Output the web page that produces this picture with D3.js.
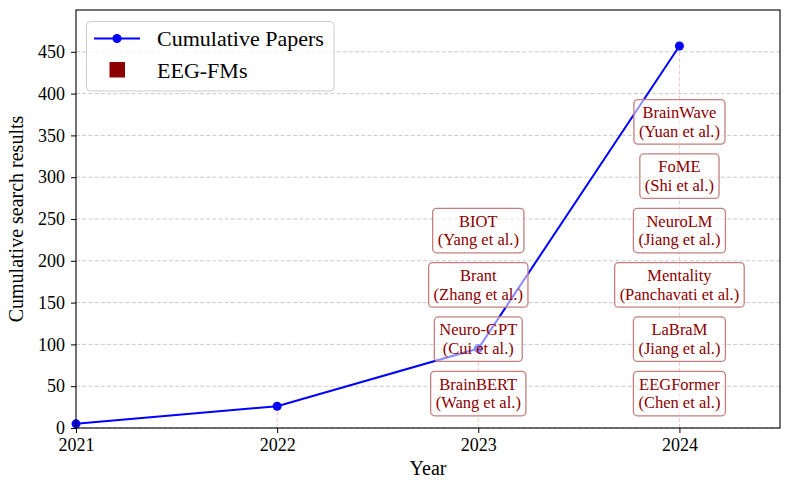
<!DOCTYPE html>
<html>
<head>
<meta charset="utf-8">
<script src="https://cdn.jsdelivr.net/npm/d3@7"></script>
<style>
  html, body { margin: 0; padding: 0; background: #fff; }
  svg { display: block; }
  text { font-family: "Liberation Serif", "DejaVu Serif", serif; }
</style>
</head>
<body>
<svg id="chart" width="790" height="490"></svg>
<script>
// ---- Data ----
const years = [2021, 2022, 2023, 2024];
const cumulativePapers = [5, 26, 95, 457];
const yTicks = [0, 50, 100, 150, 200, 250, 300, 350, 400, 450];
const xTicks = [2021, 2022, 2023, 2024];
const fmYears = [2023, 2023, 2023, 2023, 2024, 2024, 2024, 2024, 2024, 2024];
const fmLevels = [40, 105, 170, 235, 40, 105, 170, 235, 300, 365];
const fmNames = ["BrainBERT", "Neuro-GPT", "Brant", "BIOT", "EEGFormer", "LaBraM", "Mentality", "NeuroLM", "FoME", "BrainWave"];
const fmAuthors = ["(Wang et al.)", "(Cui et al.)", "(Zhang et al.)", "(Yang et al.)", "(Chen et al.)", "(Jiang et al.)", "(Panchavati et al.)", "(Jiang et al.)", "(Shi et al.)", "(Yuan et al.)"];

(function () {
// ---- Layout ----
const svg = d3.select("#chart");
const mL = 76, mR = 780, mT = 10, mB = 428;
const x = d3.scaleLinear().domain([2021, 2024.5]).range([mL, mR]);
const y = d3.scaleLinear().domain([0, 500]).range([mB, mT]);

// Horizontal grid
svg.append("g").selectAll("line").data(yTicks).join("line")
  .attr("x1", mL).attr("x2", mR)
  .attr("y1", d => y(d)).attr("y2", d => y(d))
  .attr("stroke", "#c4c4c4").attr("stroke-width", 0.9)
  .attr("stroke-dasharray", "4,2.2");

const pts = years.map((yr, i) => ({ yr, v: cumulativePapers[i] }));

// Vertical drop lines from 0 to each value
svg.append("g").selectAll("line").data(pts).join("line")
  .attr("x1", d => x(d.yr)).attr("x2", d => x(d.yr))
  .attr("y1", y(0)).attr("y2", d => y(d.v))
  .attr("stroke", "#f2c6c6").attr("stroke-width", 1)
  .attr("stroke-dasharray", "4,2.2");

// Line series
svg.append("path").datum(pts)
  .attr("fill", "none").attr("stroke", "#0000ff").attr("stroke-width", 2)
  .attr("d", d3.line().x(d => x(d.yr)).y(d => y(d.v)));
svg.append("g").selectAll("circle").data(pts).join("circle")
  .attr("cx", d => x(d.yr)).attr("cy", d => y(d.v)).attr("r", 4.5)
  .attr("fill", "#0000ff");

// FM boxes
const fs = 16.5, lh = 18.6;
const fm = fmNames.map((n, i) => ({ n, a: fmAuthors[i], yr: fmYears[i], lv: fmLevels[i] }));
const gBoxes = svg.append("g");
fm.forEach(d => {
  const g = gBoxes.append("g");
  const cx = x(d.yr), cy = y(d.lv) - 1;
  const t = g.append("text").attr("text-anchor", "middle").attr("fill", "#8b0000")
    .attr("font-size", fs);
  t.append("tspan").attr("x", cx).attr("y", cy - lh / 2 + 5.5).text(d.n);
  t.append("tspan").attr("x", cx).attr("y", cy + lh / 2 + 5.5).text(d.a);
  const bb = t.node().getBBox();
  const padX = 5, h = 44.5;
  g.insert("rect", "text")
    .attr("x", cx - bb.width / 2 - padX).attr("y", cy - h / 2)
    .attr("width", bb.width + 2 * padX).attr("height", h)
    .attr("rx", 4).attr("ry", 4)
    .attr("fill", "#ffffff").attr("fill-opacity", 0.55)
    .attr("stroke", "#c47f7f").attr("stroke-width", 1.3);
});

// Axes frame
svg.append("rect").attr("x", mL).attr("y", mT)
  .attr("width", mR - mL).attr("height", mB - mT)
  .attr("fill", "none").attr("stroke", "#000").attr("stroke-width", 1.1);

// X axis
const xAxis = svg.append("g").attr("transform", `translate(0,${mB})`)
  .call(d3.axisBottom(x).tickValues(xTicks).tickFormat(d3.format("d")).tickSize(5).tickPadding(5));
xAxis.select(".domain").remove();
xAxis.selectAll("text").attr("font-size", 18).attr("fill", "#000")
  .attr("font-family", "Liberation Serif, serif");
xAxis.selectAll("line").attr("stroke", "#000");

// Y axis
const yAxis = svg.append("g").attr("transform", `translate(${mL},0)`)
  .call(d3.axisLeft(y).tickValues(yTicks).tickFormat(d3.format("d")).tickSize(5).tickPadding(6));
yAxis.select(".domain").remove();
yAxis.selectAll("text").attr("font-size", 18).attr("fill", "#000")
  .attr("font-family", "Liberation Serif, serif");
yAxis.selectAll("line").attr("stroke", "#000");

// Axis labels
svg.append("text").attr("x", (mL + mR) / 2).attr("y", 475)
  .attr("text-anchor", "middle").attr("font-size", 20).text("Year");
svg.append("text").attr("transform", `translate(23,${(mT + mB) / 2}) rotate(-90)`)
  .attr("text-anchor", "middle").attr("font-size", 20).text("Cumulative search results");

// Legend
const lg = svg.append("g");
lg.append("rect").attr("x", 86.5).attr("y", 21.5).attr("width", 247.5).attr("height", 69.5)
  .attr("rx", 4).attr("fill", "#fff").attr("fill-opacity", 0.8)
  .attr("stroke", "#cccccc").attr("stroke-width", 1);
lg.append("line").attr("x1", 94).attr("x2", 140).attr("y1", 38.5).attr("y2", 38.5)
  .attr("stroke", "#0000ff").attr("stroke-width", 2);
lg.append("circle").attr("cx", 117).attr("cy", 38.5).attr("r", 4.5).attr("fill", "#0000ff");
lg.append("text").attr("x", 157).attr("y", 46).attr("font-size", 22).text("Cumulative Papers");
lg.append("rect").attr("x", 109.5).attr("y", 62).attr("width", 15.5).attr("height", 15.5)
  .attr("fill", "#8b0000");
lg.append("text").attr("x", 157).attr("y", 77.5).attr("font-size", 22).text("EEG-FMs");
})();
</script>
</body>
</html>
